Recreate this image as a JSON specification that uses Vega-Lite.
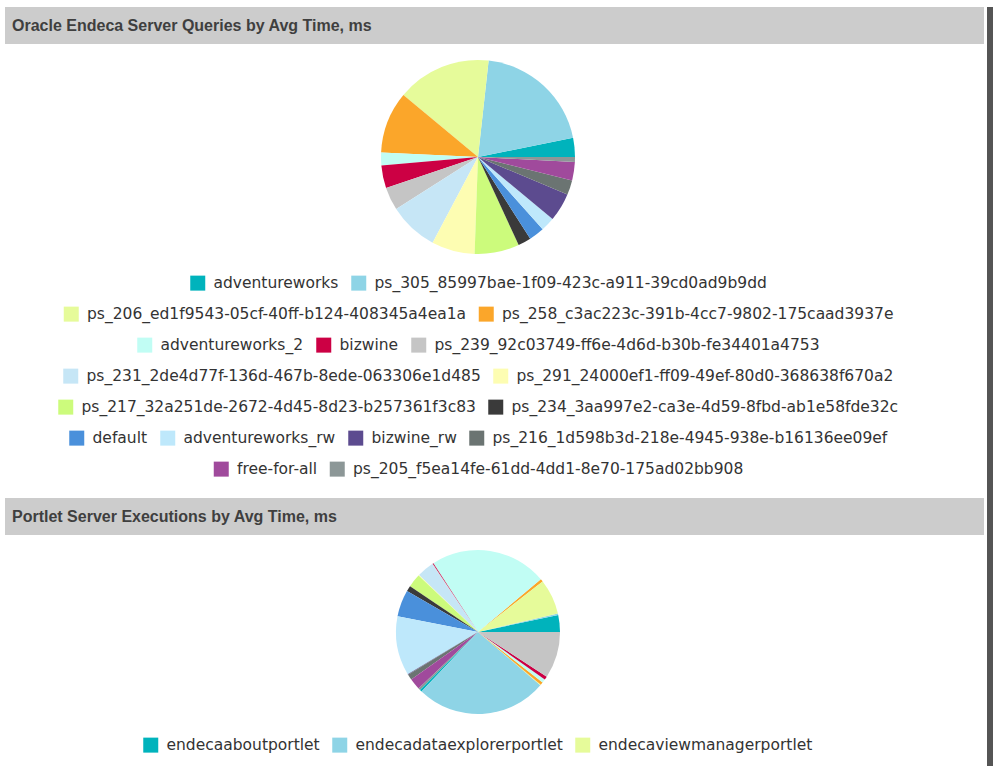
{
  "$schema": "https://vega.github.io/schema/vega-lite/v6.json",
  "background": "white",
  "padding": {"left": 5, "top": 7, "right": 0, "bottom": 0},
  "datasets": {
    "q": [
      {"name": "adventureworks", "value": 11.4},
      {"name": "ps_305_85997bae-1f09-423c-a911-39cd0ad9b9dd", "value": 72.3},
      {"name": "ps_206_ed1f9543-05cf-40ff-b124-408345a4ea1a", "value": 56.6},
      {"name": "ps_258_c3ac223c-391b-4cc7-9802-175caad3937e", "value": 37.1},
      {"name": "adventureworks_2", "value": 7.6},
      {"name": "bizwine", "value": 13.6},
      {"name": "ps_239_92c03749-ff6e-4d6d-b30b-fe34401a4753", "value": 13.9},
      {"name": "ps_231_2de4d77f-136d-467b-8ede-063306e1d485", "value": 29.6},
      {"name": "ps_291_24000ef1-ff09-49ef-80d0-368638f670a2", "value": 25.9},
      {"name": "ps_217_32a251de-2672-4d45-8d23-b257361f3c83", "value": 26.8},
      {"name": "ps_234_3aa997e2-ca3e-4d59-8fbd-ab1e58fde32c", "value": 7.8},
      {"name": "default", "value": 9.2},
      {"name": "adventureworks_rw", "value": 8.4},
      {"name": "bizwine_rw", "value": 17.0},
      {"name": "ps_216_1d598b3d-218e-4945-938e-b16136ee09ef", "value": 8.8},
      {"name": "free-for-all", "value": 11.0},
      {"name": "ps_205_f5ea14fe-61dd-4dd1-8e70-175ad02bb908", "value": 3.0}
    ],
    "p": [
      {"name": "endecaaboutportlet", "value": 12},
      {"name": "endecadataexplorerportlet", "value": 1},
      {"name": "endecaviewmanagerportlet", "value": 25},
      {"name": "endecasearchboxportlet", "value": 2},
      {"name": "endecaresultstableportlet", "value": 83},
      {"name": "endecabreadcrumbsportlet", "value": 0.6},
      {"name": "endecachartportlet", "value": 0.4},
      {"name": "endecaguidednavigationportlet", "value": 12},
      {"name": "endecatagcloudportlet", "value": 0.5},
      {"name": "endecametricsbarportlet", "value": 9.5},
      {"name": "endecamapportlet", "value": 4},
      {"name": "endecacrosstabportlet", "value": 19},
      {"name": "endecaresultslistportlet", "value": 42},
      {"name": "endecarangefiltersportlet", "value": 0.5},
      {"name": "endecabookmarksportlet", "value": 4},
      {"name": "endecaalertsportlet", "value": 8},
      {"name": "endecacompareportlet", "value": 1.5},
      {"name": "endecadatasourcefilterportlet", "value": 1.5},
      {"name": "endecapivottableportlet", "value": 93},
      {"name": "endecasortportlet", "value": 0.5},
      {"name": "endecatimelineportlet", "value": 2},
      {"name": "endecainformationportlet", "value": 2.5},
      {"name": "endecaexportportlet", "value": 2.5},
      {"name": "endecasummarizationbarportlet", "value": 33}
    ]
  },
  "spacing": 3,
  "hconcat": [
    {
      "spacing": 20,
      "vconcat": [
        {
          "spacing": 0,
          "vconcat": [
            {
              "width": 979,
              "height": 37,
              "view": {"fill": "#cccccc", "stroke": null},
              "data": {"values": [{"title": "Oracle Endeca Server Queries by Avg Time, ms"}]},
              "mark": {"type": "text", "align": "left", "dx": 7, "font": "Liberation Sans", "fontWeight": "bold", "fontSize": 16, "color": "#3f3f3f"},
              "encoding": {
                "x": {"datum": 0, "type": "quantitative", "scale": {"domain": [0, 1]}, "axis": null},
                "text": {"field": "title"}
              }
            },
            {
              "width": 946,
              "height": 226,
              "data": {"name": "q"},
              "transform": [
                {"window": [{"op": "row_number", "as": "idx"}]},
                {"stack": "value", "groupby": [], "sort": [{"field": "idx", "order": "ascending"}], "as": ["v0", "v1"]}
              ],
              "resolve": {"scale": {"color": "independent"}},
              "layer": [
                {
                  "transform": [{"filter": {"field": "name", "oneOf": ["adventureworks", "ps_305_85997bae-1f09-423c-a911-39cd0ad9b9dd"]}}],
                  "mark": {"type": "arc", "outerRadius": 97},
                  "encoding": {
                    "theta": {"field": "v0", "type": "quantitative", "scale": {"domain": [0, 360], "range": [1.5707963, -4.712389]}},
                    "theta2": {"field": "v1"},
                    "color": {"field": "name", "type": "nominal", "scale": {"domain": ["adventureworks", "ps_305_85997bae-1f09-423c-a911-39cd0ad9b9dd"], "range": ["#00b3bc", "#8ed4e6"]}, "legend": {"orient": "bottom", "direction": "horizontal", "title": null, "offset": 5}}
                  }
                },
                {
                  "transform": [{"filter": {"field": "name", "oneOf": ["ps_206_ed1f9543-05cf-40ff-b124-408345a4ea1a", "ps_258_c3ac223c-391b-4cc7-9802-175caad3937e"]}}],
                  "mark": {"type": "arc", "outerRadius": 97},
                  "encoding": {
                    "theta": {"field": "v0", "type": "quantitative", "scale": {"domain": [0, 360], "range": [1.5707963, -4.712389]}},
                    "theta2": {"field": "v1"},
                    "color": {"field": "name", "type": "nominal", "scale": {"domain": ["ps_206_ed1f9543-05cf-40ff-b124-408345a4ea1a", "ps_258_c3ac223c-391b-4cc7-9802-175caad3937e"], "range": ["#e6fb9a", "#fba62a"]}, "legend": {"orient": "bottom", "direction": "horizontal", "title": null, "offset": 5}}
                  }
                },
                {
                  "transform": [{"filter": {"field": "name", "oneOf": ["adventureworks_2", "bizwine", "ps_239_92c03749-ff6e-4d6d-b30b-fe34401a4753"]}}],
                  "mark": {"type": "arc", "outerRadius": 97},
                  "encoding": {
                    "theta": {"field": "v0", "type": "quantitative", "scale": {"domain": [0, 360], "range": [1.5707963, -4.712389]}},
                    "theta2": {"field": "v1"},
                    "color": {"field": "name", "type": "nominal", "scale": {"domain": ["adventureworks_2", "bizwine", "ps_239_92c03749-ff6e-4d6d-b30b-fe34401a4753"], "range": ["#c1fdf4", "#cc0044", "#c5c5c5"]}, "legend": {"orient": "bottom", "direction": "horizontal", "title": null, "offset": 5}}
                  }
                },
                {
                  "transform": [{"filter": {"field": "name", "oneOf": ["ps_231_2de4d77f-136d-467b-8ede-063306e1d485", "ps_291_24000ef1-ff09-49ef-80d0-368638f670a2"]}}],
                  "mark": {"type": "arc", "outerRadius": 97},
                  "encoding": {
                    "theta": {"field": "v0", "type": "quantitative", "scale": {"domain": [0, 360], "range": [1.5707963, -4.712389]}},
                    "theta2": {"field": "v1"},
                    "color": {"field": "name", "type": "nominal", "scale": {"domain": ["ps_231_2de4d77f-136d-467b-8ede-063306e1d485", "ps_291_24000ef1-ff09-49ef-80d0-368638f670a2"], "range": ["#c6e6f6", "#fdfdb2"]}, "legend": {"orient": "bottom", "direction": "horizontal", "title": null, "offset": 5}}
                  }
                },
                {
                  "transform": [{"filter": {"field": "name", "oneOf": ["ps_217_32a251de-2672-4d45-8d23-b257361f3c83", "ps_234_3aa997e2-ca3e-4d59-8fbd-ab1e58fde32c"]}}],
                  "mark": {"type": "arc", "outerRadius": 97},
                  "encoding": {
                    "theta": {"field": "v0", "type": "quantitative", "scale": {"domain": [0, 360], "range": [1.5707963, -4.712389]}},
                    "theta2": {"field": "v1"},
                    "color": {"field": "name", "type": "nominal", "scale": {"domain": ["ps_217_32a251de-2672-4d45-8d23-b257361f3c83", "ps_234_3aa997e2-ca3e-4d59-8fbd-ab1e58fde32c"], "range": ["#ccfb7c", "#3a3a3a"]}, "legend": {"orient": "bottom", "direction": "horizontal", "title": null, "offset": 5}}
                  }
                },
                {
                  "transform": [{"filter": {"field": "name", "oneOf": ["default", "adventureworks_rw", "bizwine_rw", "ps_216_1d598b3d-218e-4945-938e-b16136ee09ef"]}}],
                  "mark": {"type": "arc", "outerRadius": 97},
                  "encoding": {
                    "theta": {"field": "v0", "type": "quantitative", "scale": {"domain": [0, 360], "range": [1.5707963, -4.712389]}},
                    "theta2": {"field": "v1"},
                    "color": {"field": "name", "type": "nominal", "scale": {"domain": ["default", "adventureworks_rw", "bizwine_rw", "ps_216_1d598b3d-218e-4945-938e-b16136ee09ef"], "range": ["#4a90db", "#bee8fb", "#5c4b8f", "#6b7472"]}, "legend": {"orient": "bottom", "direction": "horizontal", "title": null, "offset": 5}}
                  }
                },
                {
                  "transform": [{"filter": {"field": "name", "oneOf": ["free-for-all", "ps_205_f5ea14fe-61dd-4dd1-8e70-175ad02bb908"]}}],
                  "mark": {"type": "arc", "outerRadius": 97},
                  "encoding": {
                    "theta": {"field": "v0", "type": "quantitative", "scale": {"domain": [0, 360], "range": [1.5707963, -4.712389]}},
                    "theta2": {"field": "v1"},
                    "color": {"field": "name", "type": "nominal", "scale": {"domain": ["free-for-all", "ps_205_f5ea14fe-61dd-4dd1-8e70-175ad02bb908"], "range": ["#a04a9c", "#8c9797"]}, "legend": {"orient": "bottom", "direction": "horizontal", "title": null, "offset": 5}}
                  }
                }
              ]
            }
          ]
        },
        {
          "spacing": 0,
          "vconcat": [
            {
              "width": 979,
              "height": 37,
              "view": {"fill": "#cccccc", "stroke": null},
              "data": {"values": [{"title": "Portlet Server Executions by Avg Time, ms"}]},
              "mark": {"type": "text", "align": "left", "dx": 7, "font": "Liberation Sans", "fontWeight": "bold", "fontSize": 16, "color": "#3f3f3f"},
              "encoding": {
                "x": {"datum": 0, "type": "quantitative", "scale": {"domain": [0, 1]}, "axis": null},
                "text": {"field": "title"}
              }
            },
            {
              "width": 946,
              "height": 194,
              "data": {"name": "p"},
              "transform": [
                {"window": [{"op": "row_number", "as": "idx"}]},
                {"stack": "value", "groupby": [], "sort": [{"field": "idx", "order": "ascending"}], "as": ["v0", "v1"]}
              ],
              "resolve": {"scale": {"color": "independent"}},
              "layer": [
                {
                  "transform": [{"filter": {"field": "idx", "gt": 3}}],
                  "mark": {"type": "arc", "outerRadius": 82},
                  "encoding": {
                    "theta": {"field": "v0", "type": "quantitative", "scale": {"domain": [0, 360], "range": [1.5707963, -4.712389]}},
                    "theta2": {"field": "v1"},
                    "color": {"field": "name", "type": "nominal", "legend": null, "scale": {
                      "domain": ["endecasearchboxportlet", "endecaresultstableportlet", "endecabreadcrumbsportlet", "endecachartportlet", "endecaguidednavigationportlet", "endecatagcloudportlet", "endecametricsbarportlet", "endecamapportlet", "endecacrosstabportlet", "endecaresultslistportlet", "endecarangefiltersportlet", "endecabookmarksportlet", "endecaalertsportlet", "endecacompareportlet", "endecadatasourcefilterportlet", "endecapivottableportlet", "endecasortportlet", "endecatimelineportlet", "endecainformationportlet", "endecaexportportlet", "endecasummarizationbarportlet"],
                      "range": ["#fba62a", "#c1fdf4", "#cc0044", "#c5c5c5", "#c6e6f6", "#fdfdb2", "#ccfb7c", "#3a3a3a", "#4a90db", "#bee8fb", "#5c4b8f", "#6b7472", "#a04a9c", "#8c9797", "#00b3bc", "#8ed4e6", "#e6fb9a", "#fba62a", "#c1fdf4", "#cc0044", "#c5c5c5"]}}
                  }
                },
                {
                  "transform": [{"filter": {"field": "idx", "lte": 3}}],
                  "mark": {"type": "arc", "outerRadius": 82},
                  "encoding": {
                    "theta": {"field": "v0", "type": "quantitative", "scale": {"domain": [0, 360], "range": [1.5707963, -4.712389]}},
                    "theta2": {"field": "v1"},
                    "color": {"field": "name", "type": "nominal", "scale": {"domain": ["endecaaboutportlet", "endecadataexplorerportlet", "endecaviewmanagerportlet"], "range": ["#00b3bc", "#8ed4e6", "#e6fb9a"]}, "legend": {"orient": "bottom", "direction": "horizontal", "title": null, "offset": 8}}
                  }
                }
              ]
            }
          ]
        }
      ]
    },
    {
      "width": 6,
      "height": 759,
      "view": {"fill": "#555555", "stroke": null},
      "data": {"values": [{"t": ""}]},
      "mark": {"type": "text"},
      "encoding": {"text": {"field": "t"}}
    }
  ],
  "config": {
    "view": {"stroke": null},
    "arc": {"stroke": null},
    "legend": {
      "symbolType": "square",
      "symbolSize": 225,
      "symbolStrokeWidth": 0,
      "labelFont": "DejaVu Sans",
      "labelFontSize": 15.5,
      "labelColor": "#333333",
      "labelOffset": 8,
      "columnPadding": 12,
      "labelLimit": 600,
      "layout": {"bottom": {"anchor": "middle", "direction": "vertical", "center": true, "margin": 14}}
    }
  }
}
